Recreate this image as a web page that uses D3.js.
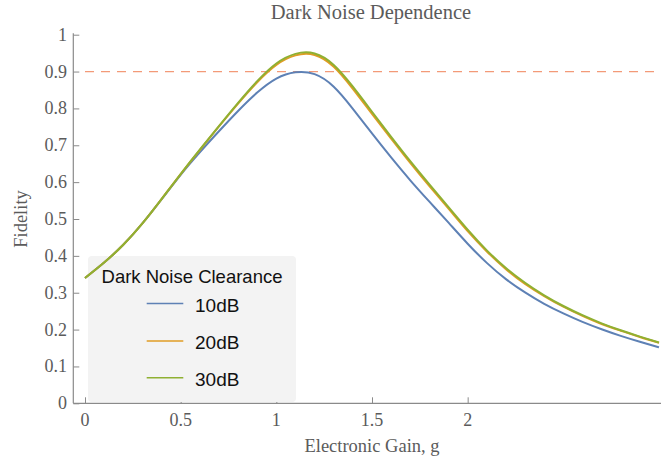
<!DOCTYPE html>
<html>
<head>
<meta charset="utf-8">
<script src="https://cdn.jsdelivr.net/npm/d3@7/dist/d3.min.js"></script>
<style>
  html, body { margin: 0; padding: 0; background: #ffffff; }
  svg { display: block; }
</style>
</head>
<body>
<svg id="chart" width="661" height="463"></svg>
<script>
// Electronic gain values (x)
const gain = [0.0, 0.1, 0.2, 0.3, 0.4, 0.5, 0.6, 0.7, 0.8, 0.9,
              1.0, 1.1, 1.2, 1.3, 1.4, 1.5, 1.6, 1.7, 1.8, 1.9,
              2.0, 2.1, 2.2, 2.3, 2.4, 2.5, 2.6, 2.7, 2.8, 2.9, 3.0];

// Fidelity for each dark noise clearance
const fid10dB = [0.340, 0.382, 0.430, 0.488, 0.553, 0.620, 0.681, 0.738, 0.793, 0.843,
                 0.881, 0.898, 0.893, 0.859, 0.799, 0.732, 0.667, 0.605, 0.547, 0.490,
                 0.433, 0.381, 0.337, 0.301, 0.270, 0.244, 0.221, 0.201, 0.183, 0.167, 0.152];
const fid20dB = [0.340, 0.382, 0.430, 0.488, 0.554, 0.622, 0.687, 0.751, 0.813, 0.871,
                 0.918, 0.944, 0.945, 0.913, 0.853, 0.785, 0.718, 0.652, 0.589, 0.528,
                 0.467, 0.412, 0.364, 0.324, 0.291, 0.262, 0.237, 0.215, 0.197, 0.180, 0.164];
const fid30dB = [0.340, 0.382, 0.430, 0.488, 0.554, 0.622, 0.688, 0.752, 0.815, 0.874,
                 0.922, 0.948, 0.949, 0.918, 0.859, 0.791, 0.723, 0.657, 0.594, 0.532,
                 0.471, 0.415, 0.367, 0.327, 0.293, 0.264, 0.239, 0.217, 0.198, 0.181, 0.165];

const seriesLabels = ["10dB", "20dB", "30dB"];
const seriesColors = ["#5e81b5", "#e19c24", "#8fb032"];
const legendTitle = "Dark Noise Clearance";
const threshold = 0.9;

const xTicks = [0, 0.5, 1, 1.5, 2];
const xTickLabels = ["0", "0.5", "1", "1.5", "2"];
const yTicks = [0, 0.1, 0.2, 0.3, 0.4, 0.5, 0.6, 0.7, 0.8, 0.9, 1];
const yTickLabels = ["0", "0.1", "0.2", "0.3", "0.4", "0.5", "0.6", "0.7", "0.8", "0.9", "1"];

const chartTitle = "Dark Noise Dependence";
const xTitle = "Electronic Gain, g";
const yTitle = "Fidelity";

const svg = d3.select("#chart");
const serif = "'Liberation Serif', 'DejaVu Serif', serif";
const sans = "'Liberation Sans', Arial, sans-serif";
const axisColor = "#8a8a8a";
const textColor = "#5b5b5b";

const x = d3.scaleLinear().domain([0, 3]).range([85, 659]);
const y = d3.scaleLinear().domain([0, 1]).range([403.3, 34.7]);
const axisLeft = 73.3, axisRight = 661;

// Axis frame
svg.append("line")
  .attr("x1", axisLeft).attr("x2", axisRight)
  .attr("y1", y(0)).attr("y2", y(0))
  .attr("stroke", axisColor).attr("stroke-width", 1.2);
svg.append("line")
  .attr("x1", axisLeft).attr("x2", axisLeft)
  .attr("y1", y(0)).attr("y2", y(1) - 1.5)
  .attr("stroke", axisColor).attr("stroke-width", 1.2);

// Ticks (pointing into the plot)
const xAxis = d3.axisTop(x).tickValues(xTicks).tickSize(6).tickFormat("");
const gx = svg.append("g").attr("transform", `translate(0,${y(0)})`).call(xAxis);
gx.select(".domain").remove();
gx.selectAll(".tick line").attr("stroke", axisColor).attr("stroke-width", 1);

const yAxis = d3.axisRight(y).tickValues(yTicks).tickSize(6).tickFormat("");
const gy = svg.append("g").attr("transform", `translate(${axisLeft},0)`).call(yAxis);
gy.select(".domain").remove();
gy.selectAll(".tick line").attr("stroke", axisColor).attr("stroke-width", 1);

// Tick labels
svg.append("g").selectAll("text").data(xTicks).join("text")
  .attr("x", d => x(d)).attr("y", 426)
  .attr("text-anchor", "middle")
  .attr("font-family", serif).attr("font-size", 18)
  .attr("fill", textColor)
  .text((d, i) => xTickLabels[i]);

svg.append("g").selectAll("text").data(yTicks).join("text")
  .attr("x", 67).attr("y", d => y(d) + 6)
  .attr("text-anchor", "end")
  .attr("font-family", serif).attr("font-size", 18)
  .attr("fill", textColor)
  .text((d, i) => yTickLabels[i]);

// Titles
svg.append("text")
  .attr("x", 371).attr("y", 19)
  .attr("text-anchor", "middle")
  .attr("font-family", serif).attr("font-size", 20.5)
  .attr("fill", textColor)
  .text(chartTitle);

svg.append("text")
  .attr("x", 372).attr("y", 452)
  .attr("text-anchor", "middle")
  .attr("font-family", serif).attr("font-size", 18.5)
  .attr("fill", textColor)
  .text(xTitle);

svg.append("text")
  .attr("transform", `translate(27,219) rotate(-90)`)
  .attr("text-anchor", "middle")
  .attr("font-family", serif).attr("font-size", 18.5)
  .attr("fill", textColor)
  .text(yTitle);

// Legend panel (drawn beneath the curves)
const legend = svg.append("g");
legend.append("rect")
  .attr("x", 88).attr("y", 256)
  .attr("width", 208).attr("height", 146)
  .attr("rx", 4).attr("ry", 4)
  .attr("fill", "#f3f3f3");

// Threshold line
svg.append("line")
  .attr("x1", x(0)).attr("x2", axisRight)
  .attr("y1", y(threshold)).attr("y2", y(threshold))
  .attr("stroke", "#f39a78").attr("stroke-width", 1.3)
  .attr("stroke-dasharray", "9,7");

// Curves
const series = [fid10dB, fid20dB, fid30dB];
const line = d3.line()
  .x((d, i) => x(gain[i]))
  .y(d => y(d))
  .curve(d3.curveNatural);

svg.append("g").selectAll("path").data(series).join("path")
  .attr("d", d => line(d))
  .attr("fill", "none")
  .attr("stroke", (d, i) => seriesColors[i])
  .attr("stroke-width", 2)
  .attr("stroke-linejoin", "round");

// Legend contents
legend.append("text")
  .attr("x", 192).attr("y", 282.5)
  .attr("text-anchor", "middle")
  .attr("font-family", sans).attr("font-size", 18.5)
  .attr("fill", "#111")
  .text(legendTitle);

const entryY = [303.5, 341, 377.8];
const entries = legend.selectAll("g.entry").data(seriesLabels).join("g").attr("class", "entry");
entries.append("line")
  .attr("x1", 146.7).attr("x2", 183.3)
  .attr("y1", (d, i) => entryY[i]).attr("y2", (d, i) => entryY[i])
  .attr("stroke", (d, i) => seriesColors[i]).attr("stroke-width", 1.6);
entries.append("text")
  .attr("x", 195).attr("y", (d, i) => entryY[i] + 8.3)
  .attr("font-family", sans).attr("font-size", 19)
  .attr("fill", "#111")
  .text(d => d);
</script>
</body>
</html>
